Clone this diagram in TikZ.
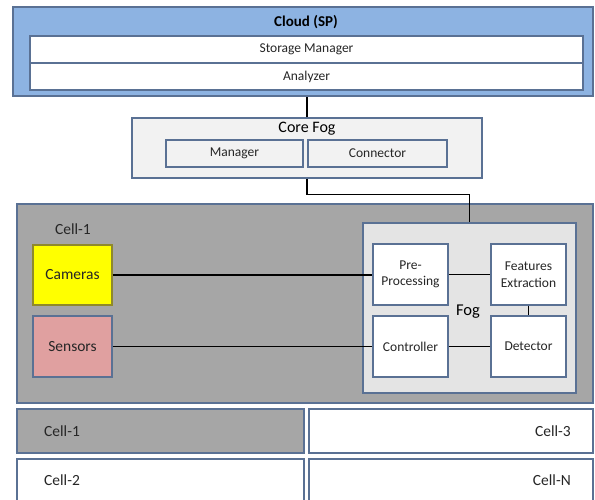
\documentclass[tikz,border=0pt]{standalone}
\usepackage{fontspec}
\setmainfont{Carlito}
\usetikzlibrary{positioning}
\definecolor{bordc}{HTML}{5A7194}
\definecolor{cloudc}{HTML}{8DB3E2}
\definecolor{cellgray}{HTML}{A6A6A6}
\definecolor{foggray}{HTML}{E4E4E4}
\definecolor{corefill}{HTML}{F2F2F2}
\definecolor{camc}{HTML}{FFFF00}
\definecolor{senc}{HTML}{E0A0A0}
\definecolor{txtc}{HTML}{262626}
\tikzset{
  box/.style={draw=bordc, line width=1.1pt, rectangle, inner sep=0pt, text=txtc, font=\fontsize{13.5}{15}\selectfont, align=center},
  inner/.style={box, fill=white, minimum width=75pt, minimum height=61pt, font=\fontsize{13.5}{16.5}\selectfont},
  wire/.style={draw=black, line width=1.8pt},
  lbl/.style={inner sep=0pt, text=txtc, font=\fontsize{15.5}{17}\selectfont}
}
\begin{document}
\begin{tikzpicture}[x=1pt,y=-1pt]
\useasboundingbox (0,0) rectangle (595,499);
% Cloud
\node[box, fill=cloudc, minimum width=580pt, minimum height=89pt] (cloud) at (303,51.5) {};
\node[lbl, font=\fontsize{15}{17}\selectfont\bfseries, text=black] (cloudt) at (306,22) {Cloud (SP)};
\node[box, fill=white, minimum width=553pt, minimum height=27pt] (storage) at (306.5,49.5) {Storage Manager};
\node[box, fill=white, minimum width=553pt, minimum height=27pt] (analyzer) at (306.5,76.5) {Analyzer};
% Core fog
\node[box, fill=corefill, minimum width=350pt, minimum height=60pt] (corefog) at (307,148) {};
\node[lbl, text=black, font=\fontsize{16}{18}\selectfont] (coret) at (307,129) {Core Fog};
\node[box, fill=corefill, minimum width=137pt, minimum height=27pt] (manager) at (234.5,153.5) {Manager};
\node[box, fill=corefill, minimum width=139pt, minimum height=27pt] (connector) at (377.5,153.5) {Connector};
% Cell-1 big
\node[box, fill=cellgray, minimum width=576pt, minimum height=199pt] (cell) at (305,303.5) {};
\node[lbl] (cellt) at (73,229) {Cell-1};
\node[box, draw=olive!70!gray, fill=camc, minimum width=79pt, minimum height=60pt, font=\fontsize{15.5}{17}\selectfont] (cameras) at (72.5,275) {Cameras};
\node[box, fill=senc, minimum width=79pt, minimum height=61pt, font=\fontsize{15.5}{17}\selectfont] (sensors) at (72.5,346.5) {Sensors};
% Fog
\node[box, fill=foggray, minimum width=213pt, minimum height=170pt] (fog) at (469.5,308) {};
\node[lbl, text=black, font=\fontsize{16.5}{18}\selectfont] (fogt) at (468,312) {Fog};
\node[inner] (pre) at (410.5,274.5) {Pre-\\Processing};
\node[inner] (feat) at (528.5,274.5) {Features\\Extraction};
\node[inner] (ctrl) at (410.5,346.5) {Controller};
\node[inner] (det) at (528.5,346.5) {Detector};
% bottom cells
\node[box, fill=cellgray, minimum width=287pt, minimum height=44pt] (c1) at (160.5,431) {};
\node[lbl, anchor=west] (c1t) at (44,431) {Cell-1};
\node[box, fill=white, minimum width=284pt, minimum height=44pt] (c3) at (451,431) {};
\node[lbl, anchor=east] (c3t) at (571,431) {Cell-3};
\node[box, fill=white, minimum width=287pt, minimum height=44pt] (c2) at (160.5,481) {};
\node[lbl, anchor=west] (c2t) at (44,480) {Cell-2};
\node[box, fill=white, minimum width=284pt, minimum height=44pt] (cN) at (451,481) {};
\node[lbl, anchor=east] (cNt) at (571,480) {Cell-N};
% wires
\draw[wire] (corefog.north) -- (corefog.north |- cloud.south);
\draw[wire] (corefog.south) -- ++(0,16) -| (fog.north);
\draw[wire] (cameras.east) -- (cameras.east -| pre.west);
\draw[wire] (sensors.east) -- (sensors.east -| ctrl.west);
\draw[wire] (pre.east) -- (feat.west);
\draw[wire] (ctrl.east) -- (det.west);
\draw[wire] (feat.south) -- (det.north);
\end{tikzpicture}
\end{document}
